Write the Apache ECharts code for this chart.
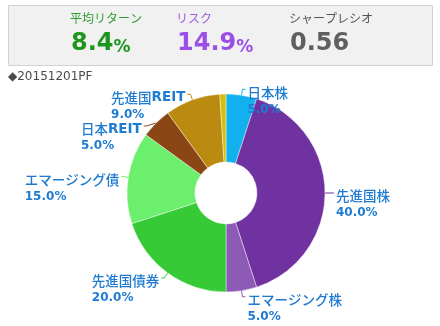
<!DOCTYPE html>
<html>
<head>
<meta charset="utf-8">
<script src="https://cdn.jsdelivr.net/npm/echarts@6/dist/echarts.min.js"></script>
<style>
  html, body { margin: 0; padding: 0; background: #ffffff; }
  #c { width: 440px; height: 326px; }
</style>
</head>
<body>
<div id="c"></div>
<script>
// Portfolio allocation (percent of total)
const categories = ['日本株', '先進国株', 'エマージング株', '先進国債券', 'エマージング債', '日本REIT', '先進国REIT', 'その他'];
const weights = [5, 40, 5, 20, 15, 5, 9, 1];

// Summary figures shown in the header box
const metricNames = ['平均リターン', 'リスク', 'シャープレシオ'];
const metricValues = ['8.4', '14.9', '0.56'];
const metricUnits = ['%', '%', ''];
const portfolioName = '20151201PF';

// Colours
const palette = ['#12b1ee', '#7032a0', '#8d5ab6', '#36cb36', '#6cef6c', '#8a4614', '#bb8a10', '#d3be12'];
const metricColors = [['#2f9e2f', '#1c961c'], ['#a258e2', '#9c4fe6'], ['#555555', '#5f5f5f']];
const labelColor = '#1f7bd2';

const latin = "'DejaVu Sans', 'Noto Sans CJK JP', sans-serif";
const jp = "'Noto Sans CJK JP', sans-serif";

const chart = echarts.init(document.getElementById('c'), null, { renderer: 'canvas' });

// Header: grey box with three metrics
const metricX = [70, 176, 289];
const graphics = [{
  type: 'rect', silent: true,
  shape: { x: 8.5, y: 5.5, width: 424, height: 60 },
  style: { fill: '#f1f1f1', stroke: '#d2d2d2', lineWidth: 1 }
}];
metricNames.forEach(function (name, i) {
  graphics.push({
    type: 'text', silent: true, x: metricX[i], y: 18,
    style: { text: name, font: '12px ' + jp, fill: metricColors[i][0], verticalAlign: 'middle' }
  });
  const unit = metricUnits[i] ? '{u|' + metricUnits[i] + '}' : '';
  graphics.push({
    type: 'text', silent: true, x: metricX[i] + 1, y: 56,
    style: {
      text: '{v|' + metricValues[i] + '}' + unit,
      verticalAlign: 'bottom',
      rich: {
        v: { fontSize: 24, fontWeight: 'bold', fontFamily: latin, fill: metricColors[i][1], lineHeight: 26, verticalAlign: 'bottom' },
        u: { fontSize: 17, fontWeight: 'bold', fontFamily: latin, fill: metricColors[i][1], lineHeight: 20, verticalAlign: 'bottom' }
      }
    }
  });
});
graphics.push({
  type: 'text', silent: true, x: 8, y: 77,
  style: { text: '◆' + portfolioName, font: '12px ' + latin, fill: '#4a4a4a', verticalAlign: 'middle' }
});

// Latin runs of a name are set bold, Japanese runs in a lighter weight
function nameTokens(name) {
  return name.split(/([A-Za-z0-9]+)/).filter(Boolean).map(function (s) {
    return (/[A-Za-z0-9]/.test(s) ? '{n|' : '{c|') + s + '}';
  }).join('');
}

chart.setOption({
  animation: false,
  graphic: graphics,
  series: [{
    type: 'pie',
    center: [226, 193],
    radius: [31, 99],
    startAngle: 90,
    clockwise: true,
    avoidLabelOverlap: true,
    emphasis: { disabled: true },
    itemStyle: { borderColor: 'rgba(255,255,255,0.7)', borderWidth: 0.6 },
    data: categories.map(function (name, i) {
      const shown = weights[i] >= 2;
      return {
        name: name,
        value: weights[i],
        itemStyle: { color: palette[i] },
        label: { show: shown },
        labelLine: { show: shown }
      };
    }),
    label: {
      formatter: function (p) {
        return nameTokens(p.name) + '\n{p|' + p.value.toFixed(1) + '%}';
      },
      distanceToLabelLine: 2,
      rich: {
        c: { fontSize: 13.5, fontWeight: 500, fontFamily: jp, color: labelColor, lineHeight: 17 },
        n: { fontSize: 13.5, fontWeight: 'bold', fontFamily: latin, color: labelColor, lineHeight: 17 },
        p: { fontSize: 12, fontWeight: 'bold', fontFamily: latin, color: labelColor, lineHeight: 17 }
      }
    },
    labelLine: { length: 6, length2: 3, lineStyle: { width: 1 } },
    // Left-align both lines of each label and put the name next to the connector
    labelLayout: function (p) {
      const pts = p.labelLinePoints;
      if (!pts) return {};
      const r = p.labelRect;
      return { x: r.x, y: r.y + 10, align: 'left', verticalAlign: 'top', labelLinePoints: pts };
    }
  }]
});
</script>
</body>
</html>
